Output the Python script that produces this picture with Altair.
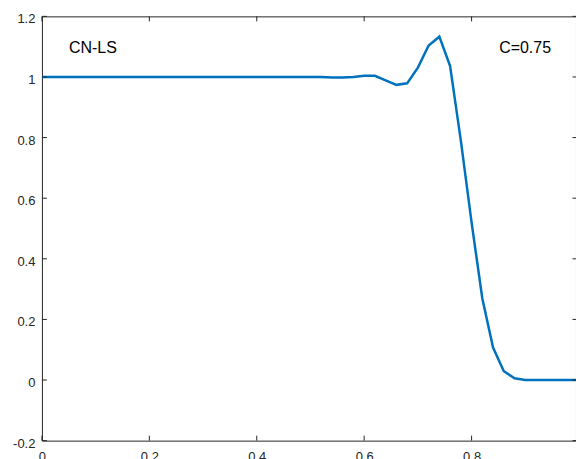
import altair as alt
import pandas as pd

# solution values on the grid
xs = [0.00, 0.02, 0.04, 0.06, 0.08, 0.10, 0.12, 0.14, 0.16, 0.18,
      0.20, 0.22, 0.24, 0.26, 0.28, 0.30, 0.32, 0.34, 0.36, 0.38,
      0.40, 0.42, 0.44, 0.46, 0.48, 0.50, 0.52, 0.54, 0.56, 0.58,
      0.60, 0.62, 0.64, 0.66, 0.68, 0.70, 0.72, 0.74, 0.76, 0.78,
      0.80, 0.82, 0.84, 0.86, 0.88, 0.90, 0.92, 0.94, 0.96, 0.98, 1.00]
ys = [1.0, 1.0, 1.0, 1.0, 1.0, 1.0, 1.0, 1.0, 1.0, 1.0,
      1.0, 1.0, 1.0, 1.0, 1.0, 1.0, 1.0, 1.0, 1.0, 1.0,
      1.0, 1.0, 1.0, 1.0, 1.0, 1.0, 1.0, 0.998, 0.998, 1.0,
      1.004, 1.004, 0.989, 0.974, 0.979, 1.031, 1.104, 1.133, 1.036, 0.79,
      0.52, 0.269, 0.107, 0.029, 0.006, 0.0, 0.0, 0.0, 0.0, 0.0, 0.0]

x_ticks = [0, 0.2, 0.4, 0.6, 0.8]
y_ticks = [-0.2, 0, 0.2, 0.4, 0.6, 0.8, 1.0, 1.2]
labels = ["CN-LS", "C=0.75"]

df = pd.DataFrame({"x": xs, "y": ys})
xt = pd.DataFrame({"t": x_ticks})
yt = pd.DataFrame({"t": y_ticks})

W, H = 535, 425
AX = "#262626"
FONT = "Liberation Sans"

xscale = alt.Scale(domain=[0, W / 538], nice=False, zero=False)
yscale = alt.Scale(domain=[-0.2, 1.2], nice=False, zero=False)

lbl_expr = "datum.value < 0 ? '-' + format(-datum.value, '~g') : format(datum.value, '~g')"

xaxis = alt.Axis(values=x_ticks, domain=False, ticks=False, tickSize=0, labelFlush=False,
                 labelPadding=10, labelExpr=lbl_expr, grid=False, title=None)
yaxis = alt.Axis(values=y_ticks, domain=False, ticks=False, tickSize=0, labelFlush=False,
                 labelPadding=7, labelOffset=2.5, labelExpr=lbl_expr, grid=False, title=None)

line = alt.Chart(df).mark_line(color="#0072BD", strokeWidth=2.5, clip=True).encode(
    x=alt.X("x:Q", scale=xscale, axis=xaxis, title=None),
    y=alt.Y("y:Q", scale=yscale, axis=yaxis, title=None),
)

tick_style = dict(color=AX, strokeWidth=1)
bottom = alt.Chart(xt).mark_rule(**tick_style).encode(
    x=alt.X("t:Q", scale=xscale, axis=xaxis, title=None), y=alt.value(H), y2=alt.value(H - 5))
top = alt.Chart(xt).mark_rule(**tick_style).encode(
    x=alt.X("t:Q", scale=xscale, axis=xaxis, title=None), y=alt.value(0), y2=alt.value(5))
left = alt.Chart(yt).mark_rule(**tick_style).encode(
    y=alt.Y("t:Q", scale=yscale, axis=yaxis, title=None), x=alt.value(0), x2=alt.value(5))
right = alt.Chart(yt).mark_rule(**tick_style).encode(
    y=alt.Y("t:Q", scale=yscale, axis=yaxis, title=None), x=alt.value(W - 3.5), x2=alt.value(W + 2))

t1 = alt.Chart(pd.DataFrame({"label": [labels[0]]})).mark_text(
    align="left", baseline="middle", font=FONT, fontSize=16, color="black").encode(
    x=alt.value(27), y=alt.value(32), text="label:N")
t2 = alt.Chart(pd.DataFrame({"label": [labels[1]]})).mark_text(
    align="left", baseline="middle", font=FONT, fontSize=16, color="black").encode(
    x=alt.value(458), y=alt.value(32), text="label:N")

chart = alt.layer(line, bottom, top, left, right, t1, t2).properties(
    width=W, height=H,
    autosize=alt.AutoSizeParams(type="none"),
    padding={"left": 42, "top": 16, "right": 0, "bottom": 18},
    background="white",
).configure_view(stroke=AX, strokeWidth=1).configure_axis(
    labelFont=FONT, labelFontSize=13, labelColor=AX,
)

chart.save("out.html", embed_options={"renderer": "svg", "actions": False})
